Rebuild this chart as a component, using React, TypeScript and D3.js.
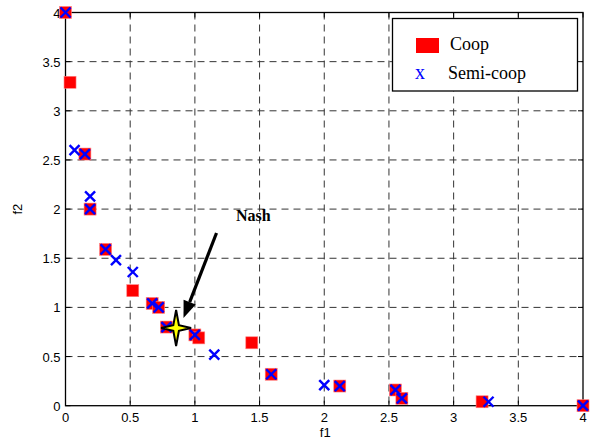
import React from "react";
import * as d3 from "d3";

// Coop results (red squares)
const coopF1 = [0, 0.035, 0.15, 0.19, 0.31, 0.52, 0.67, 0.72, 0.78, 1.0, 1.03, 1.44, 1.59, 2.12, 2.55, 2.6, 3.22, 4];
const coopF2 = [4, 3.29, 2.56, 2.0, 1.59, 1.17, 1.04, 1.0, 0.8, 0.72, 0.69, 0.64, 0.32, 0.2, 0.16, 0.075, 0.04, 0];

// Semi-coop results (blue x)
const semiF1 = [0, 0.07, 0.15, 0.19, 0.19, 0.31, 0.39, 0.52, 0.67, 0.72, 0.78, 1.0, 1.15, 1.59, 2.0, 2.12, 2.55, 2.6, 3.27, 4];
const semiF2 = [4, 2.6, 2.56, 2.13, 2.0, 1.59, 1.48, 1.36, 1.04, 1.0, 0.8, 0.72, 0.52, 0.32, 0.21, 0.2, 0.16, 0.075, 0.04, 0];

const nash = { f1: 0.855, f2: 0.79 };

const xTicks = [0, 0.5, 1, 1.5, 2, 2.5, 3, 3.5, 4];
const yTicks = [0, 0.5, 1, 1.5, 2, 2.5, 3, 3.5, 4];

const W = 604;
const H = 443;
const left = 65.5;
const right = 583;
const top = 12.5;
const bottom = 405.7;

const x = d3.scaleLinear().domain([0, 4]).range([left, right]);
const y = d3.scaleLinear().domain([0, 4]).range([bottom, top]);

const sans = "Arial, 'Liberation Sans', sans-serif";
const serif = "'Times New Roman', 'Liberation Serif', serif";

// 4-point star centred at 0,0 (taller than wide)
const starPts: [number, number][] = [
  [0, -18], [2.8, -2.8], [15, 0], [2.8, 2.8], [0, 18], [-2.8, 2.8], [-15, 0], [-2.8, -2.8],
];
const star = d3.line().curve(d3.curveLinearClosed)(starPts) as string;

const Cross = ({ cx, cy, s = 5 }: { cx: number; cy: number; s?: number }) => (
  <g stroke="#0000ff" strokeWidth={2.4}>
    <line x1={cx - s} y1={cy - s} x2={cx + s} y2={cy + s} />
    <line x1={cx - s} y1={cy + s} x2={cx + s} y2={cy - s} />
  </g>
);

export default function App() {
  const sq = 12;
  // arrow geometry
  const ax1 = 216.5, ay1 = 233;
  const ax2 = 183.5, ay2 = 318;
  const ang = Math.atan2(ay2 - ay1, ax2 - ax1);
  const hl = 17, hw = 6.5;
  const bx = ax2 - Math.cos(ang) * hl, by = ay2 - Math.sin(ang) * hl;
  const head = [
    [ax2, ay2],
    [bx + Math.sin(ang) * hw, by - Math.cos(ang) * hw],
    [bx - Math.sin(ang) * hw, by + Math.cos(ang) * hw],
  ];

  return (
    <svg width={W} height={H} style={{ position: "absolute", left: 0, top: 0, background: "#fff" }}>
      <rect width={W} height={H} fill="#fff" />
      {/* grid */}
      <g stroke="#111" strokeWidth={1} strokeDasharray="7,5" opacity={0.85}>
        {xTicks.slice(1, -1).map((t) => (
          <line key={"gx" + t} x1={x(t)} x2={x(t)} y1={top} y2={bottom} />
        ))}
        {yTicks.slice(1, -1).map((t) => (
          <line key={"gy" + t} x1={left} x2={right} y1={y(t)} y2={y(t)} />
        ))}
      </g>
      {/* ticks inside on all sides */}
      <g stroke="#000" strokeWidth={1}>
        {xTicks.map((t) => (
          <g key={"tx" + t}>
            <line x1={x(t)} x2={x(t)} y1={bottom} y2={bottom - 5} />
            <line x1={x(t)} x2={x(t)} y1={top} y2={top + 5} />
          </g>
        ))}
        {yTicks.map((t) => (
          <g key={"ty" + t}>
            <line x1={left} x2={left + 5} y1={y(t)} y2={y(t)} />
            <line x1={right} x2={right - 5} y1={y(t)} y2={y(t)} />
          </g>
        ))}
      </g>
      <rect x={left} y={top} width={right - left} height={bottom - top} fill="none" stroke="#000" strokeWidth={1.3} />
      {/* tick labels */}
      <g fontFamily={sans} fontSize={13} fill="#000">
        {xTicks.map((t) => (
          <text key={"lx" + t} x={x(t)} y={bottom + 16} textAnchor="middle">
            {t}
          </text>
        ))}
        {yTicks.map((t) => (
          <text key={"ly" + t} x={left - 5} y={y(t) + 5} textAnchor="end">
            {t}
          </text>
        ))}
        <text x={(left + right) / 2 + 1} y={437} textAnchor="middle">f1</text>
        <text transform={`translate(22,${(top + bottom) / 2}) rotate(-90)`} textAnchor="middle">f2</text>
      </g>
      {/* coop squares */}
      <g fill="#ff0000" stroke="#ff8080" strokeWidth={0.6}>
        {coopF1.map((v, i) => (
          <rect key={"c" + i} x={x(v) - sq / 2} y={y(coopF2[i]) - sq / 2} width={sq} height={sq} />
        ))}
      </g>
      {/* semi-coop crosses */}
      {semiF1.map((v, i) => (
        <Cross key={"s" + i} cx={x(v)} cy={y(semiF2[i])} />
      ))}
      {/* Nash star */}
      <path d={star} transform={`translate(${x(nash.f1)},${y(nash.f2)})`} fill="#ffff00" stroke="#000" strokeWidth={2} />
      {/* arrow */}
      <line x1={ax1} y1={ay1} x2={bx} y2={by} stroke="#000" strokeWidth={3.2} />
      <polygon points={head.map((p) => p.join(",")).join(" ")} fill="#000" />
      <text x={236} y={221} fontFamily={serif} fontWeight="bold" fontSize={16} fill="#000">Nash</text>
      {/* legend */}
      <rect x={392.5} y={18.5} width={185} height={72.5} fill="#fff" stroke="#000" strokeWidth={1.3} />
      <rect x={416} y={38} width={23} height={15} fill="#ff0000" />
      <text x={450} y={50} fontFamily={serif} fontSize={18} fill="#000">Coop</text>
      <text x={420} y={79} fontFamily={serif} fontSize={20} fill="#0000ff" textAnchor="middle">x</text>
      <text x={448} y={79} fontFamily={serif} fontSize={18} fill="#000">Semi-coop</text>
    </svg>
  );
}
